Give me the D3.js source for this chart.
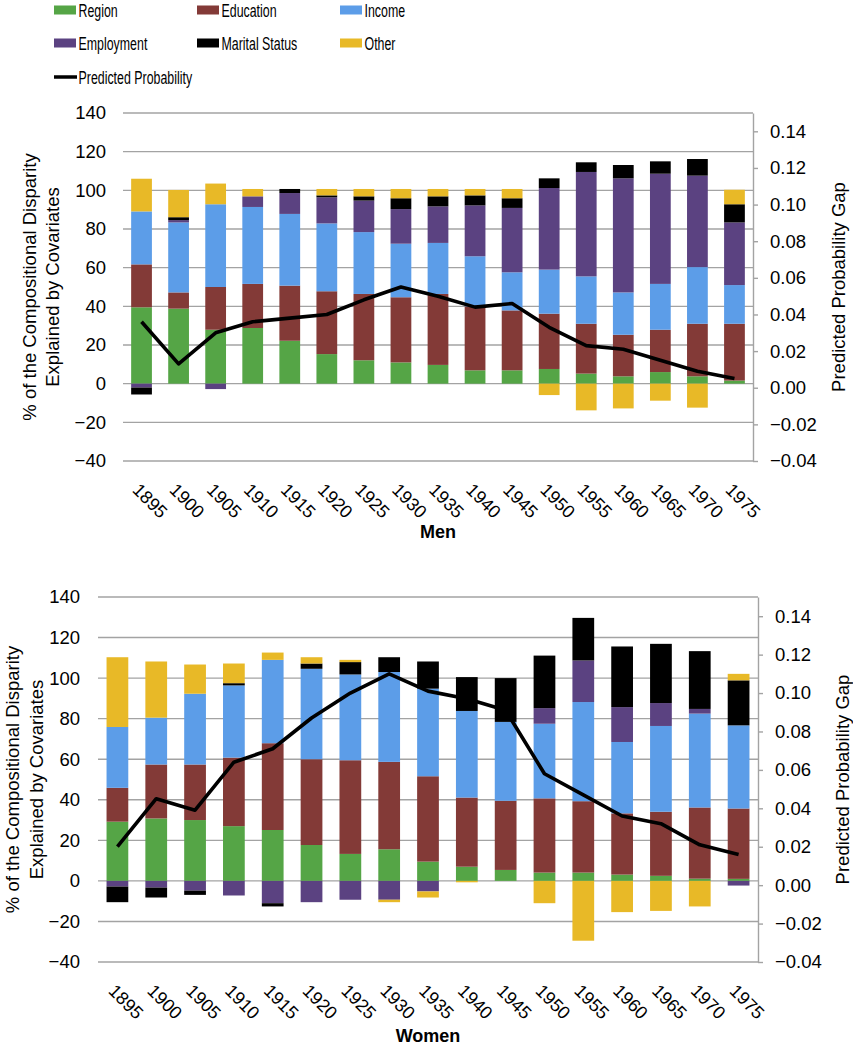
<!DOCTYPE html>
<html><head><meta charset="utf-8">
<script src="https://cdn.jsdelivr.net/npm/d3@7"></script>
<style>
body{margin:0;background:#fff}
svg{display:block}
text{font-family:"Liberation Sans",Arial,sans-serif;fill:#000}
</style>
</head><body>
<svg id="chart" width="853" height="1050"></svg>
<script>
// ---------- data ----------
const years = ["1895","1900","1905","1910","1915","1920","1925","1930","1935","1940","1945","1950","1955","1960","1965","1970","1975"];
const seriesKeys = ["Region","Education","Income","Employment","Marital Status","Other"];
const seriesColors = ["#55a546","#833a37","#5c9de8","#5b4281","#000000","#e8b927"];
const leftTicks = [-40,-20,0,20,40,60,80,100,120,140];
const rightTicks = [-0.04,-0.02,0,0.02,0.04,0.06,0.08,0.10,0.12,0.14];

// Men
const menRegion     = [39.5,38.8,27.9,28.8,22.2,15.3,12.1,11.0,9.7,6.9,6.9,7.6,5.2,3.8,6.0,3.8,1.6];
const menEducation  = [22.2,8.4,22.1,22.8,28.5,32.5,34.3,33.7,36.7,33.1,31.0,28.6,25.8,21.5,21.9,27.2,29.4];
const menIncome     = [27.4,36.2,42.8,39.8,37.1,35.1,32.0,27.7,26.4,25.9,19.7,22.8,24.5,21.9,23.7,29.3,20.0];
const menEmployment = [-2.0,1.2,-2.8,5.5,10.8,13.5,16.3,17.9,18.9,26.3,33.3,42.2,54.0,59.0,57.0,47.3,32.4];
const menMarital    = [-3.6,1.5,0,0,2.1,1.0,2.2,5.6,5.2,5.2,5.0,5.0,5.0,6.9,6.4,8.6,9.4];
const menOther      = [16.9,14.1,10.7,3.8,0,3.3,3.8,4.8,3.8,3.3,4.8,-5.9,-13.8,-12.8,-8.8,-12.4,7.5];
const menGap        = [0.036,0.013,0.030,0.036,0.038,0.040,0.048,0.055,0.050,0.044,0.046,0.033,0.023,0.021,0.015,0.009,0.005];

// Women
const womenRegion     = [29.2,30.8,30.0,27.0,25.1,17.7,13.3,15.6,9.5,7.0,5.4,4.1,4.1,3.1,2.5,1.1,1.0];
const womenEducation  = [16.7,26.6,27.4,33.8,42.8,42.3,46.2,43.1,42.1,34.1,34.1,36.6,35.2,30.2,31.6,35.1,34.7];
const womenIncome     = [30.0,23.1,34.9,35.6,41.1,44.6,42.3,44.3,43.2,42.7,38.9,36.8,48.9,35.2,42.3,46.3,41.0];
const womenEmployment = [-2.8,-3.3,-4.8,-7.2,-11.0,-10.5,-9.3,-9.3,-5.2,0,0,7.7,20.5,17.2,11.3,2.3,-2.3];
const womenMarital    = [-7.7,-4.9,-2.1,1.1,-1.6,2.6,6.1,7.3,13.4,16.7,21.6,25.9,21.0,29.9,29.2,28.5,22.2];
const womenOther      = [34.4,27.7,14.4,9.7,3.6,3.1,1.1,-1.2,-3.0,-0.7,0,-11.0,-29.5,-15.4,-14.8,-12.6,3.2];
const womenGap        = [0.020,0.045,0.039,0.064,0.071,0.087,0.100,0.110,0.101,0.097,0.091,0.058,0.047,0.036,0.032,0.021,0.016];

// ---------- drawing ----------
const svg = d3.select("#chart");
const color = d3.scaleOrdinal().domain(seriesKeys).range(seriesColors);
const GRID = "#a3a3a3";

// legend
const legendItems = seriesKeys.map((k,i)=>({k, col:i%3, row:Math.floor(i/3)}));
const legX = [54,197,340], legY = [10,43];
const leg = svg.append("g");
legendItems.forEach(d=>{
  leg.append("rect").attr("x",legX[d.col]).attr("y",legY[d.row]-4.5).attr("width",22).attr("height",9).attr("fill",color(d.k));
  leg.append("text").attr("transform",`translate(${legX[d.col]+24.5},${legY[d.row]+6.7}) scale(0.67,1)`)
    .style("font-size","18.5px").text(d.k);
});
leg.append("line").attr("x1",54).attr("x2",77).attr("y1",77).attr("y2",77).attr("stroke","#000").attr("stroke-width",3.5);
leg.append("text").attr("transform",`translate(78.5,83.7) scale(0.67,1)`).style("font-size","18.5px").text("Predicted Probability");

function drawPanel(cfg){
  const rows = years.map((y,i)=>{
    const r = {year:y};
    seriesKeys.forEach((k,j)=>{ r[k] = cfg.values[j][i]; });
    return r;
  });
  const x = d3.scaleBand().domain(years).range([cfg.left,cfg.right]).paddingInner(0.44).paddingOuter(0.22);
  const y = d3.scaleLinear().domain([-40,140]).range([cfg.bottom,cfg.top]);
  const y2 = d3.scaleLinear().domain([-0.04,0.15]).range([cfg.bottom,cfg.top]);
  const g = svg.append("g");

  // gridlines
  g.append("g").selectAll("line").data(leftTicks).join("line")
    .attr("x1",cfg.left).attr("x2",cfg.right)
    .attr("y1",d=>y(d)).attr("y2",d=>y(d))
    .attr("stroke",GRID).attr("stroke-width",1.4);

  // left axis labels
  const ax = g.append("g").attr("transform",`translate(${cfg.left},0)`)
    .call(d3.axisLeft(y).tickValues(leftTicks).tickSize(0).tickPadding(cfg.leftPad).tickFormat(d3.format("d")));
  ax.select(".domain").remove();
  ax.selectAll("text").style("font-size","18.5px").style("font-family",'"Liberation Sans",Arial,sans-serif');

  // right axis
  const ar = g.append("g").attr("transform",`translate(${cfg.right},0)`)
    .call(d3.axisRight(y2).tickValues(rightTicks).tickSize(5).tickSizeOuter(0).tickPadding(12).tickFormat(d3.format(".2f")));
  ar.select(".domain").attr("stroke",GRID).attr("stroke-width",1.4);
  ar.selectAll(".tick line").attr("stroke",GRID).attr("stroke-width",1.4);
  ar.selectAll("text").style("font-size","18.5px").style("font-family",'"Liberation Sans",Arial,sans-serif');

  // bars
  const stacked = d3.stack().keys(seriesKeys).offset(d3.stackOffsetDiverging)(rows);
  g.append("g").selectAll("g").data(stacked).join("g").attr("fill",d=>color(d.key))
    .selectAll("rect").data(d=>d).join("rect")
    .attr("x",d=>x(d.data.year)).attr("width",x.bandwidth())
    .attr("y",d=>y(Math.max(d[0],d[1]))).attr("height",d=>Math.abs(y(d[0])-y(d[1])));

  // line
  g.append("path").datum(cfg.gap)
    .attr("fill","none").attr("stroke","#000").attr("stroke-width",3.6).attr("stroke-linejoin","round")
    .attr("d",d3.line().x((d,i)=>x(years[i])+x.bandwidth()/2).y(d=>y2(d)));

  // x labels
  g.append("g").selectAll("text").data(years).join("text")
    .attr("transform",d=>`translate(${x(d)+x.bandwidth()/2-10},${cfg.bottom+30}) rotate(45)`)
    .style("font-size","18px").text(d=>d);

  // x title
  g.append("text").attr("x",(cfg.left+cfg.right)/2).attr("y",cfg.xTitleY).attr("text-anchor","middle")
    .style("font-size","18px").style("font-weight","bold").text(cfg.title);

  // left title
  const cy = (cfg.top+cfg.bottom)/2;
  [["% of the Compositional Disparity",cfg.lt1],["Explained by Covariates",cfg.lt2]].forEach(([t,xx])=>{
    g.append("text").attr("transform",`translate(${xx},${cy}) rotate(-90)`).attr("text-anchor","middle")
      .attr("dy","0.35em").style("font-size","18.5px").text(t);
  });
  // right title
  g.append("text").attr("transform",`translate(${cfg.rt},${cy}) rotate(-90)`).attr("text-anchor","middle")
    .attr("dy","0.35em").style("font-size","18.5px").text("Predicted Probability Gap");
}

drawPanel({
  values:[menRegion,menEducation,menIncome,menEmployment,menMarital,menOther], gap:menGap,
  left:123, right:753, top:113, bottom:461, leftPad:17,
  title:"Men", xTitleY:538, lt1:30, lt2:53, rt:839
});
drawPanel({
  values:[womenRegion,womenEducation,womenIncome,womenEmployment,womenMarital,womenOther], gap:womenGap,
  left:98, right:758, top:597, bottom:962, leftPad:18,
  title:"Women", xTitleY:1042, lt1:13, lt2:37, rt:843
});
</script>
</body></html>
